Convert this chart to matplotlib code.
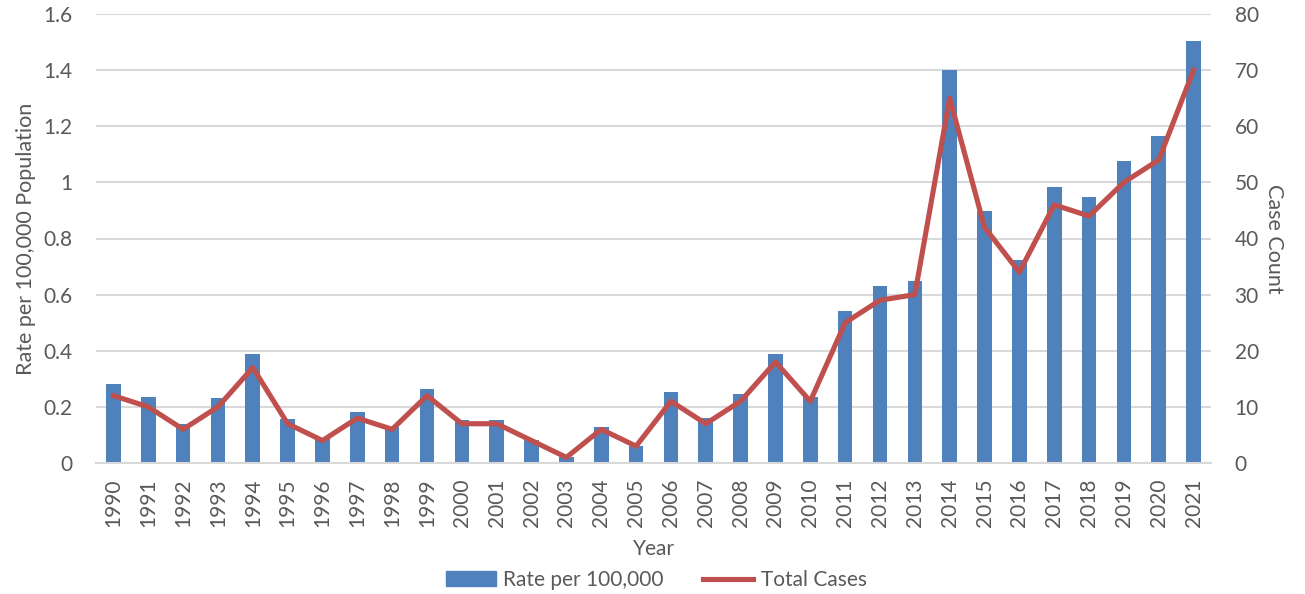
import matplotlib.pyplot as plt
import numpy as np
from matplotlib.lines import Line2D
from matplotlib.patches import Patch

plt.rcParams['font.family'] = ['Lato', 'DejaVu Sans']
plt.rcParams['ytick.major.pad'] = 17

years = [str(y) for y in range(1990, 2022)]
rate = [0.28, 0.235, 0.14, 0.23, 0.39, 0.157, 0.09, 0.18, 0.13, 0.265,
        0.153, 0.153, 0.082, 0.02, 0.128, 0.06, 0.253, 0.16, 0.246, 0.39,
        0.235, 0.54, 0.63, 0.65, 1.40, 0.898, 0.723, 0.984, 0.948, 1.076,
        1.165, 1.505]
cases = [12, 10, 6, 10, 17, 7, 4, 8, 6, 12,
         7, 7, 4, 1, 6, 3, 11, 7, 11, 18,
         11, 25, 29, 30, 65, 42, 34, 46, 44, 50,
         54, 70]

bar_color = '#4F81BD'
line_color = '#C0504D'
text_color = '#595959'

fig = plt.figure(figsize=(13.05, 5.94), dpi=100)
ax = fig.add_axes([96 / 1305, 1 - 463 / 594, (1211 - 96) / 1305, (463 - 14) / 594])
x = np.arange(len(years))
ax.bar(x, rate, width=0.42, color=bar_color, zorder=2)
ax.set_xlim(-0.5, len(years) - 0.5)
ax.set_ylim(0, 1.6)
ax.set_yticks(np.arange(0, 1.61, 0.2))
ax.set_yticklabels(['0', '0.2', '0.4', '0.6', '0.8', '1', '1.2', '1.4', '1.6'])
ax.yaxis.grid(True, color='#D9D9D9', linewidth=1.5, zorder=0)
ax.set_axisbelow(True)
ax.set_xticks(x)
ax.set_xticklabels(years, rotation=90)
for s in ['top', 'right', 'left']:
    ax.spines[s].set_visible(False)
ax.spines['bottom'].set_color('#D9D9D9')
ax.spines['bottom'].set_linewidth(1.5)
ax.tick_params(axis='both', length=0, colors=text_color, labelsize=15)
ax.tick_params(axis='x', pad=11)
ax.set_ylabel('Rate per 100,000 Population', color=text_color, fontsize=15.5, labelpad=5)
ax.set_xlabel('Year', color=text_color, fontsize=15, labelpad=9)

ax2 = ax.twinx()
ax2.plot(x, cases, color=line_color, linewidth=3.7, zorder=3, solid_joinstyle='round')
ax2.set_ylim(0, 80)
ax2.set_yticks(np.arange(0, 81, 10))
for s in ['top', 'right', 'left', 'bottom']:
    ax2.spines[s].set_visible(False)
ax2.tick_params(axis='y', length=0, colors=text_color, labelsize=15)
ax2.set_ylabel('Case Count', color=text_color, fontsize=15.5, rotation=-90, labelpad=18)

handles = [Patch(color=bar_color, label='Rate per 100,000'),
           Line2D([0], [0], color=line_color, linewidth=3.7, label='Total Cases')]
fig.legend(handles=handles, loc='center', ncol=2, frameon=False,
           bbox_to_anchor=(0.503, 1 - 580 / 594), fontsize=15, labelcolor=text_color,
           handlelength=2.4, handletextpad=0.35, columnspacing=1.9)

fig.savefig('out.png', dpi=100)
